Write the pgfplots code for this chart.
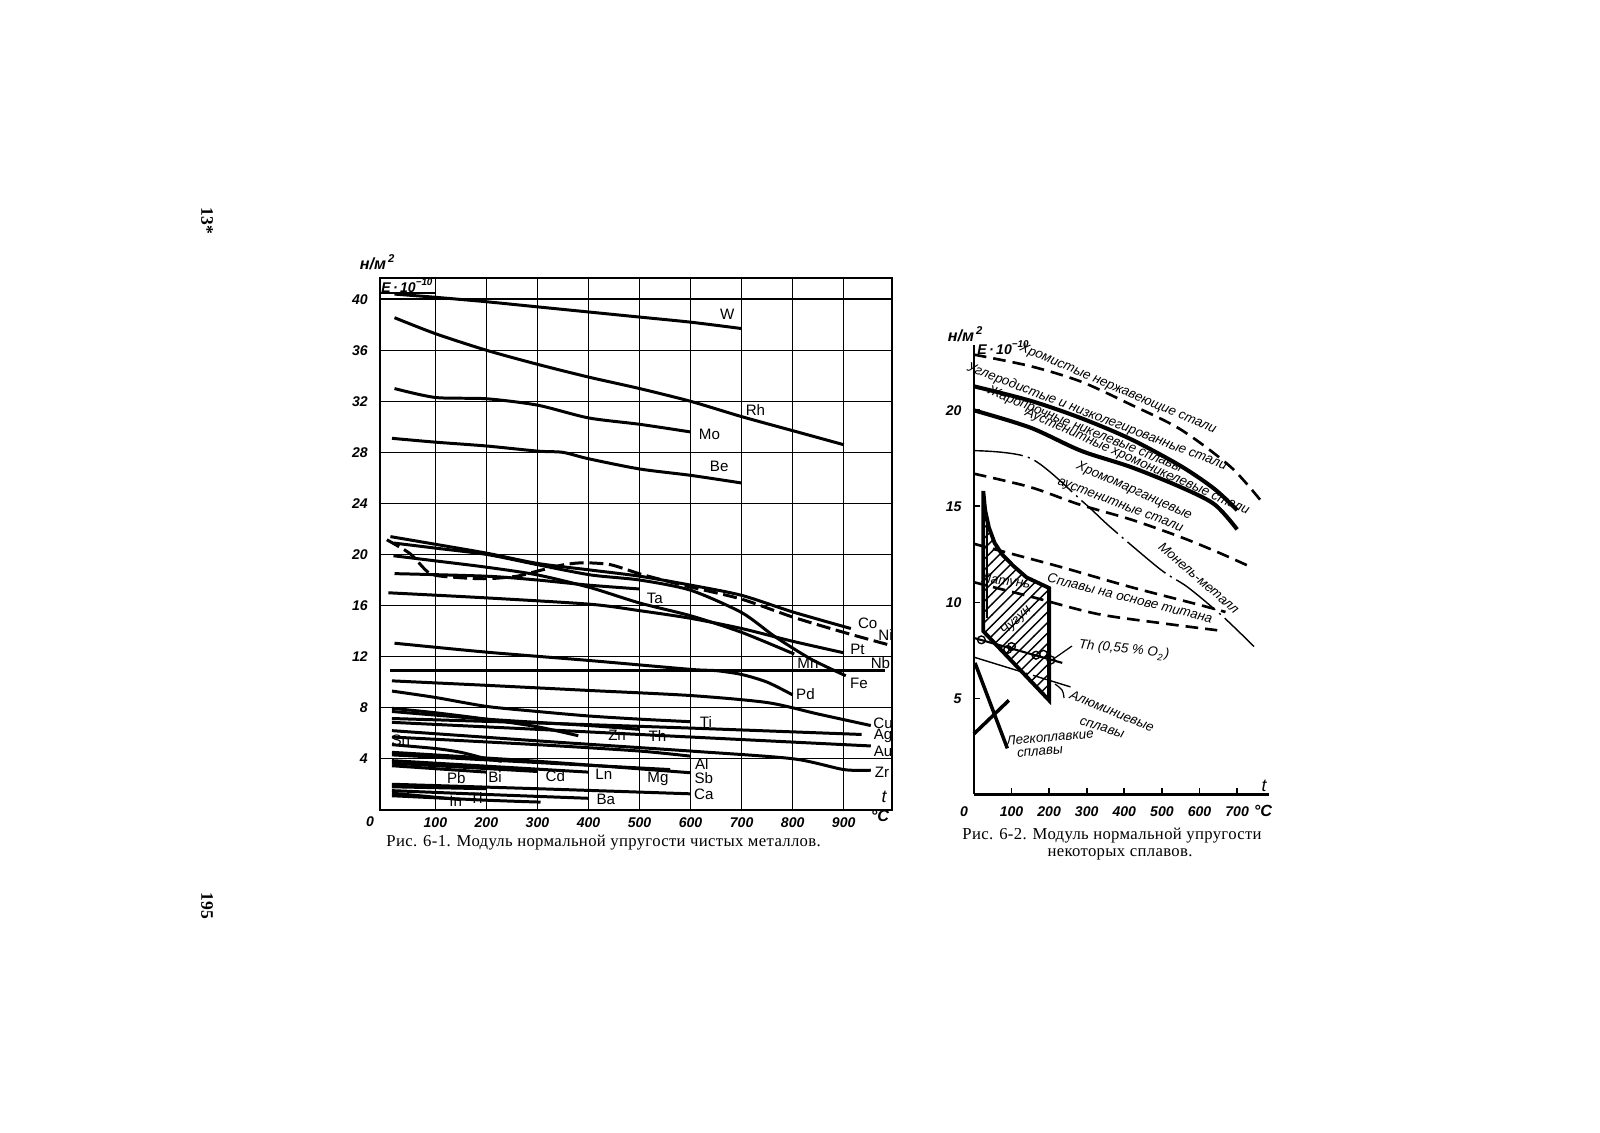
\documentclass[border=0pt]{standalone}
\usepackage{pgfplots}
\pgfplotsset{compat=1.18}
\usetikzlibrary{patterns}
\usepackage{fontspec}
\setmainfont{Liberation Serif}
\newfontfamily\hs{Liberation Sans}
\newcommand{\tk}{\hs\itshape\bfseries\fontsize{4.0}{4.3}\selectfont}
\newcommand{\tkb}{\hs\itshape\bfseries\fontsize{4.6}{5}\selectfont}
\newcommand{\lb}{\hs\fontsize{4.3}{4.6}\selectfont}
\newcommand{\rl}{\hs\itshape\fontsize{3.8}{4}\selectfont}
\newcommand{\capf}{\addfontfeatures{LetterSpace=2}\fontsize{4.75}{5.8}\selectfont}
\newcommand{\Eten}{E\,·\,10\textsuperscript{−10}}
\newcommand{\unit}{н/м\textsuperscript{\,2}}
\tikzset{lab/.style={font=\lb}}
\begin{document}
\begin{tikzpicture}
\begin{scope}[x=0.01cm,y=-0.01cm,shift={(0,11.32cm)}]
\fill[white] (0,0) rectangle (1600,1132);
\node[rotate=-90,font=\bfseries\fontsize{5}{6}\selectfont] at (207,221) {13*};
\node[rotate=-90,font=\bfseries\fontsize{5}{6}\selectfont] at (207,906) {195};
% left chart
\node[font=\tkb] at (378,262) {\unit};
\node[font=\tk] at (370,822) {0};
\node[font=\tkb] at (880,816) {°C};
\node[font=\hs\itshape\fontsize{5}{5.5}\selectfont] at (884,797) {t};
\node[anchor=west,font=\capf] at (374,843) {Рис. 6-1. Модуль нормальной упругости чистых металлов.};
% right chart
\node[font=\tkb] at (966,334) {\unit};
\node[font=\tk,anchor=west,inner sep=0.5pt] at (975,348) {\Eten};
\node[font=\tk] at (964,812) {0};
\node[font=\tkb] at (1263,811) {°C};
\node[font=\hs\itshape\fontsize{5}{5.5}\selectfont] at (1264,786) {t};
\node[anchor=west,font=\capf] at (950,836) {Рис. 6-2. Модуль нормальной упругости};
\node[font=\capf] at (1120,854) {некоторых сплавов.};
\node[rotate=-23,font=\rl] at (1118,389) {Хромистые нержавеющие стали};
\node[rotate=-21,font=\rl] at (1097,417) {Углеродистые и низколегированные стали};
\node[rotate=-22,font=\rl] at (1085,430) {Жаропрочные никелевые сплавы};
\node[rotate=-24,font=\rl] at (1137,462) {Аустенитные хромоникелевые стали};
\node[rotate=-24,font=\rl] at (1134,491) {Хромомарганцевые};
\node[rotate=-21,font=\rl] at (1120,506) {аустенитные стали};
\node[rotate=-41,font=\rl] at (1199,578) {Монель-металл};
\node[rotate=-14,font=\rl] at (1130,598) {Сплавы на основе титана};
\node[rotate=-6,font=\rl] at (1006,582) {Латунь};
\node[rotate=43,font=\rl] at (1016,621) {Чугун};
\node[rotate=-6,font=\rl] at (1124,650) {Th (0,55 \% O\textsubscript{2})};
\draw[line width=0.35pt] (1072,646) -- (1052,660);
\node[rotate=-22,font=\rl] at (1112,711) {Алюминиевые};
\node[rotate=-17,font=\rl] at (1102,728) {сплавы};
\draw[line width=0.35pt] (1064,698) .. controls (1063,690) .. (1055,684);
\node[rotate=5,font=\rl] at (1050,737) {Легкоплавкие};
\node[rotate=5,font=\rl] at (1040,752) {сплавы};
\end{scope}

% ================= LEFT AXIS =================
\begin{axis}[at={(3.80cm,3.227cm)},anchor=south west,scale only axis,
 width=5.117cm,height=5.316cm,xmin=-8,xmax=995,ymin=0,ymax=41.67,
 xtick={100,200,...,900},xticklabels={100,200,300,400,500,600,700,800,900},
 ytick={4,8,...,40},yticklabels={4,8,12,16,20,24,28,32,36,40},
 grid=major,major grid style={black,line width=0.4pt},
 axis line style={line width=0.7pt},major tick length=0pt,
 xticklabel style={font=\tk,yshift=1.2pt},yticklabel style={font=\tk},
 clip=false,
 cv/.style={black,line width=0.85pt,smooth,tension=0.45}]
\draw[line width=0.5pt] (axis cs:-8,40.5) -- (axis cs:100,40.5);
\node[font=\tk] at (axis cs:46,41.08) {\Eten};
% W
\addplot[cv] coordinates {(20,40.4)(100,40.15)(200,39.8)(300,39.4)(400,39.0)(500,38.6)(600,38.2)(700,37.7)};
\node[lab] at (axis cs:672,38.85) {W};
% Rh
\addplot[cv] coordinates {(20,38.55)(100,37.3)(200,36.0)(300,34.9)(400,33.9)(500,33.0)(600,32.0)(700,30.8)(800,29.7)(900,28.6)};
\node[lab] at (axis cs:727,31.3) {Rh};
% Mo
\addplot[cv] coordinates {(20,33.0)(100,32.3)(200,32.2)(300,31.7)(400,30.7)(500,30.2)(600,29.6)};
\node[lab] at (axis cs:637,29.4) {Mo};
% Be
\addplot[cv] coordinates {(15,29.1)(100,28.8)(200,28.5)(300,28.1)(350,28.0)(400,27.5)(500,26.7)(600,26.2)(700,25.6)};
\node[lab] at (axis cs:656,26.9) {Be};
% Co
\addplot[cv] coordinates {(12,21.4)(100,20.8)(201,20.1)(300,19.3)(400,18.8)(500,18.3)(600,17.6)(700,16.8)(800,15.5)(914,14.2)};
\node[lab] at (axis cs:947,14.6) {Co};
% Ni dashed
\addplot[cv,dash pattern=on 4pt off 1.6pt] coordinates {(5,21.15)(51,20.05)(90,18.5)(142,18.2)(201,18.1)(260,18.3)(300,18.7)(352,19.2)(391,19.35)(443,19.2)(499,18.5)(555,17.9)(600,17.45)(700,16.5)(800,15.1)(900,13.9)(990,12.9)};
\node[lab] at (axis cs:982,13.7) {Ni};
% Fe
\addplot[cv] coordinates {(18,20.9)(100,20.5)(201,20.0)(300,19.2)(404,18.4)(500,18.0)(600,17.2)(700,15.45)(764,13.6)(836,11.8)(904,10.5)};
\node[lab] at (axis cs:930,9.9) {Fe};
% Mn
\addplot[cv] coordinates {(18,19.9)(100,19.5)(201,19.0)(300,18.4)(404,17.4)(500,16.2)(600,15.2)(700,13.9)(803,12.2)};
\node[lab] at (axis cs:830,11.45) {Mn};
% Ta
\addplot[cv] coordinates {(20,18.5)(200,18.3)(300,18.0)(400,17.6)(499,17.3)};
\node[lab] at (axis cs:530,16.6) {Ta};
% Pt
\addplot[cv] coordinates {(8,17.0)(200,16.6)(404,16.1)(500,15.6)(600,15.0)(700,14.2)(800,13.2)(900,12.3)};
\node[lab] at (axis cs:927,12.6) {Pt};
% Nb
\addplot[cv] coordinates {(12,10.9)(300,10.9)(600,10.9)(980,10.9)};
\node[lab] at (axis cs:972,11.5) {Nb};
% Pd
\addplot[cv] coordinates {(20,13.05)(200,12.35)(400,11.7)(600,11.0)(650,10.9)(700,10.6)(750,10.0)(800,9.0)};
\node[lab] at (axis cs:825,9.1) {Pd};
% Cu
\addplot[cv] coordinates {(15,10.1)(200,9.75)(400,9.35)(600,8.95)(750,8.4)(850,7.5)(953,6.6)};
\node[lab] at (axis cs:977,6.8) {Cu};
% Ti
\addplot[cv] coordinates {(15,9.3)(100,8.8)(200,8.1)(300,7.7)(400,7.35)(500,7.1)(600,6.9)};
\node[lab] at (axis cs:630,6.85) {Ti};
% Zn
\addplot[cv] coordinates {(15,7.95)(100,7.6)(200,7.1)(300,6.5)(380,5.8)};
\node[lab] at (axis cs:456,5.8) {Zn};
% Th
\addplot[cv] coordinates {(15,7.7)(200,7.1)(400,6.6)(500,6.3)};
\node[lab] at (axis cs:535,5.8) {Th};
% Ag
\addplot[cv] coordinates {(15,7.15)(300,6.8)(600,6.4)(935,5.9)};
\node[lab] at (axis cs:977,5.8) {Ag};
% Au
\addplot[cv] coordinates {(15,6.85)(300,6.3)(600,5.7)(953,5.0)};
\node[lab] at (axis cs:977,4.6) {Au};
% Zr
\addplot[cv] coordinates {(15,6.2)(300,5.4)(600,4.6)(800,4.0)(900,3.15)(953,3.1)};
\node[lab] at (axis cs:975,2.9) {Zr};
% Al
\addplot[cv] coordinates {(15,5.7)(300,5.1)(500,4.6)(600,4.2)};
\node[lab] at (axis cs:622,3.6) {Al};
% Sn
\addplot[cv] coordinates {(15,5.1)(100,4.8)(150,4.5)(200,4.0)(230,3.8)};
\node[lab,anchor=west] at (axis cs:-10,5.45) {Sn};
% Sb
\addplot[cv] coordinates {(15,4.5)(300,3.8)(600,2.9)};
\node[lab] at (axis cs:626,2.5) {Sb};
% Mg
\addplot[cv] coordinates {(15,4.3)(300,3.7)(560,3.15)};
\node[lab] at (axis cs:536,2.4) {Mg};
% Bi
\addplot[cv] coordinates {(15,3.45)(200,2.95)};
\node[lab] at (axis cs:217,2.6) {Bi};
% Cd
\addplot[cv] coordinates {(15,3.65)(300,3.0)};
\node[lab] at (axis cs:335,2.6) {Cd};
% Ln
\addplot[cv] coordinates {(15,3.85)(400,2.95)};
\node[lab] at (axis cs:430,2.75) {Ln};
% Pb
\addplot[cv] coordinates {(15,1.8)(200,1.65)};
\node[lab] at (axis cs:141,2.45) {Pb};
% Ca
\addplot[cv] coordinates {(15,2.0)(300,1.65)(600,1.25)};
\node[lab] at (axis cs:626,1.2) {Ca};
% Ba
\addplot[cv] coordinates {(15,1.5)(200,1.2)(400,0.9)};
\node[lab] at (axis cs:434,0.8) {Ba};
% In
\addplot[cv] coordinates {(15,1.3)(150,0.8)};
\node[lab] at (axis cs:140,0.66) {In};
% Tl
\addplot[cv] coordinates {(15,1.1)(200,0.75)(306,0.6)};
\node[lab] at (axis cs:180,0.93) {Tl};
\end{axis}

% ================= RIGHT AXIS =================
\begin{axis}[at={(9.733cm,3.38cm)},anchor=south west,scale only axis,
 width=2.947cm,height=4.49cm,xmin=0,xmax=784,ymin=0,ymax=23.39,
 axis x line=bottom,axis y line=left,axis line style={-,line width=0.7pt},
 xtick={100,200,...,700},xticklabels={100,200,300,400,500,600,700},
 ytick={5,10,15,20},yticklabels={5,10,15,20},
 tick align=inside,major tick length=0.06cm,tick style={black,line width=0.5pt},
 xticklabel style={font=\tk},yticklabel style={font=\tk},
 clip=false,
 th/.style={black,line width=1.15pt,smooth,tension=0.5},
 ds/.style={black,line width=0.75pt,dash pattern=on 3.6pt off 2pt,smooth},
 dd/.style={black,line width=0.4pt,dash pattern=on 14pt off 1.5pt on 0.6pt off 1.5pt,smooth}]
\addplot[ds] coordinates {(0,22.9)(150,22.3)(284,21.5)(417,20.3)(550,19.0)(683,17.05)(767,15.2)};
\addplot[th] coordinates {(0,21.25)(150,20.5)(284,19.6)(417,18.5)(550,17.1)(640,15.9)(700,14.8)};
\addplot[th] coordinates {(0,20.0)(150,19.1)(284,17.9)(417,17.05)(550,16.0)(640,15.1)(700,13.8)};
\addplot[dd] coordinates {(0,17.9)(151,17.5)(292,15.2)(364,13.9)(497,11.7)(568,10.8)(660,9.3)(745,7.7)};
\addplot[ds] coordinates {(0,16.7)(150,16.0)(280,15.1)(420,14.3)(550,13.4)(650,12.6)(730,11.9)};
\addplot[ds] coordinates {(0,13.05)(106,12.5)(239,11.8)(417,10.8)(594,9.9)(669,9.5)};
\addplot[ds] coordinates {(0,11.05)(151,10.3)(328,9.4)(506,8.9)(647,8.55)};
\addplot[black,line width=1.1pt,pattern=north east lines] coordinates {(25,15.8)(30,14.8)(40,13.9)(55,13.1)(75,12.5)(105,11.9)(140,11.3)(200,10.75)(200,4.9)(25,8.5)} -- cycle;
\addplot[black,line width=0.6pt] coordinates {(34,14.6)(34,9.2)};
\addplot[black,line width=0.6pt] coordinates {(0,8.15)(235,6.85)};
\addplot[only marks,mark=o,mark size=1.1pt,mark options={line width=0.4pt,fill=white}] coordinates {(20,8.05)(90,7.55)(100,7.7)(165,7.25)(185,7.3)(205,7.0)};
\addplot[dd] coordinates {(0,7.15)(257,5.6)};
\addplot[black,line width=1.0pt] coordinates {(3,6.85)(89,2.4)};
\addplot[black,line width=1.0pt] coordinates {(0,3.15)(93,4.9)};
\end{axis}
\end{tikzpicture}
\end{document}
